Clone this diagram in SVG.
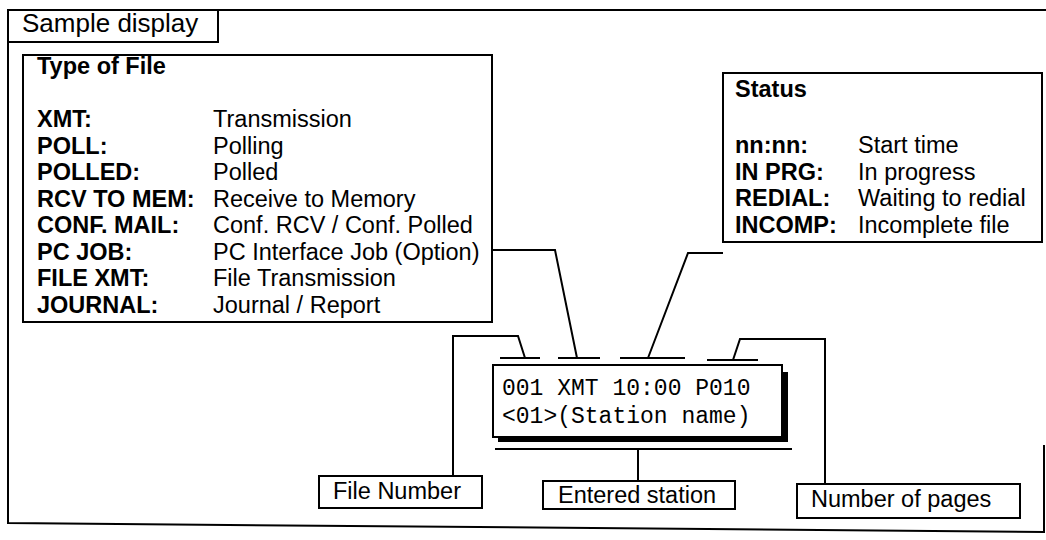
<svg xmlns="http://www.w3.org/2000/svg" width="1046" height="540" viewBox="0 0 1046 540">
<style>
.t{font-family:"Liberation Sans",Arial,sans-serif;font-size:23.5px;fill:#000}
.b{font-weight:bold}
.m{font-family:"Liberation Mono","Courier New",monospace;font-size:23px;fill:#000}
.box{fill:#fff;stroke:#000;stroke-width:2}
.ln{fill:none;stroke:#000;stroke-width:2}
</style>
<rect width="1046" height="540" fill="#fff"/>
<g id="frame">
<path class="ln" d="M8,10 H1046 M8,10 V523 L1044,532 V445"/>
<rect class="box" x="8" y="10" width="210" height="32"/>
<text class="t" x="22" y="32" style="font-size:26px">Sample display</text>
</g>
<g id="type-of-file">
<rect class="box" x="23" y="55" width="469" height="267"/>
<text class="t b" x="37" y="74">Type of File</text>
<g class="t b">
<text x="37" y="127">XMT:</text>
<text x="37" y="153.5">POLL:</text>
<text x="37" y="180">POLLED:</text>
<text x="37" y="206.5">RCV TO MEM:</text>
<text x="37" y="233">CONF. MAIL:</text>
<text x="37" y="259.5">PC JOB:</text>
<text x="37" y="286">FILE XMT:</text>
<text x="37" y="312.5">JOURNAL:</text>
</g>
<g class="t">
<text x="213" y="127">Transmission</text>
<text x="213" y="153.5">Polling</text>
<text x="213" y="180">Polled</text>
<text x="213" y="206.5">Receive to Memory</text>
<text x="213" y="233">Conf. RCV / Conf. Polled</text>
<text x="213" y="259.5">PC Interface Job (Option)</text>
<text x="213" y="286">File Transmission</text>
<text x="213" y="312.5">Journal / Report</text>
</g>
</g>
<g id="status">
<rect class="box" x="723" y="73" width="319" height="169"/>
<text class="t b" x="735" y="97">Status</text>
<g class="t b">
<text x="735" y="153">nn:nn:</text>
<text x="735" y="180">IN PRG:</text>
<text x="735" y="206">REDIAL:</text>
<text x="735" y="233">INCOMP:</text>
</g>
<g class="t">
<text x="858" y="153">Start time</text>
<text x="858" y="180">In progress</text>
<text x="858" y="206">Waiting to redial</text>
<text x="858" y="233">Incomplete file</text>
</g>
</g>
<g id="display">
<rect x="498" y="372" width="290" height="70" fill="#000"/>
<rect class="box" x="493" y="365" width="289" height="72"/>
<text class="m" x="502" y="395">001 XMT 10:00 P010</text>
<text class="m" x="502" y="423">&lt;01&gt;(Station name)</text>
<path class="ln" d="M495,449 H792"/>
</g>
<g id="file-number">
<rect class="box" x="319" y="476" width="163" height="32"/>
<text class="t" x="333" y="499">File Number</text>
</g>
<g id="entered-station">
<rect class="box" x="543" y="481" width="192" height="28"/>
<text class="t" x="558" y="503">Entered station</text>
</g>
<g id="number-of-pages">
<rect class="box" x="797" y="484" width="223" height="34"/>
<text class="t" x="811" y="507">Number of pages</text>
</g>
<g id="connectors">
<path class="ln" d="M500,358 H540 M558,358 H600 M620,358 H685 M707,360 H758"/>
<path class="ln" d="M525,358 L518,336 H453 V476"/>
<path class="ln" d="M577,358 L555,250 H492"/>
<path class="ln" d="M648,358 L688,253 H723"/>
<path class="ln" d="M733,360 L740,339 H825 V484"/>
<path class="ln" d="M638,449 V481"/>
</g>
</svg>
